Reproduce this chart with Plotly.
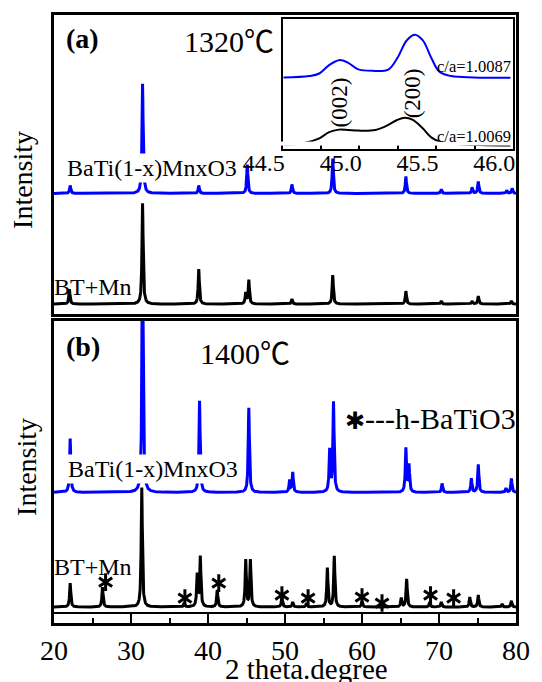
import numpy as np
import plotly.graph_objects as go

# ---------------- data ----------------
# panel (a) 1320 C : peak positions (2theta, deg) and peak heights (arb. units)
a_mn_pos = [22.1, 31.5, 38.8, 45.1, 50.9, 56.2, 65.7, 70.3, 74.3, 75.1, 78.8, 79.5]
a_mn_int = [8, 110, 8, 29, 9, 35, 17, 4, 6, 12, 3, 5]
a_bt_pos = [22.0, 31.5, 38.8, 44.9, 45.3, 50.9, 56.2, 65.7, 70.3, 74.3, 75.1, 79.4]
a_bt_int = [15, 101, 35, 11, 24, 5, 29, 13, 3, 3, 8, 3]

# panel (b) 1400 C
b_mn_pos = [22.1, 31.5, 38.9, 45.3, 50.6, 51.0, 55.8, 56.3, 65.7, 66.1, 70.4, 74.2, 75.1, 78.7, 79.4]
b_mn_int = [54, 260, 92, 85, 12, 20, 42, 90, 44, 27, 9, 14, 28, 4, 14]
b_bt_pos = [22.1, 26.3, 31.4, 36.9, 38.6, 39.0, 41.2, 44.9, 45.5, 49.6, 51.0, 52.8,
            55.5, 56.4, 60.0, 65.1, 65.8, 68.8, 70.3, 74.0, 75.1, 78.2, 79.4]
b_bt_int = [24, 20, 120, 4, 32, 50, 17, 47, 47, 10, 5, 4,
            39, 51, 6, 9, 28, 5, 5, 10, 12, 3, 6]

# h-BaTiO3 markers (2theta, level)
h_phase_pos = [26.7, 37.0, 41.4, 49.6, 53.0, 60.0, 62.6, 68.9, 71.9]
h_phase_lvl = [31, 15, 30, 18, 15, 16, 10, 18, 15]

# inset: (002)/(200) region, sampled points
inset_mn_x = [44.626, 44.795, 44.859, 44.923, 44.987, 45.045, 45.109, 45.205, 45.308,
              45.365, 45.429, 45.481, 45.532, 45.590, 45.641, 45.718, 45.865, 46.103]
inset_mn_y = [71.3, 72.7, 75.3, 83.7, 88.7, 86.3, 79.7, 78.0, 79.3,
              90.3, 108.7, 114.3, 108.7, 90.3, 77.0, 72.7, 71.3, 71.0]
inset_bt_x = [44.626, 44.754, 44.859, 44.923, 44.987, 45.045, 45.115, 45.224, 45.308, 45.365,
              45.417, 45.468, 45.532, 45.590, 45.654, 45.782, 46.103]
inset_bt_y = [4.3, 5.3, 10.3, 16.5, 19.0, 18.7, 18.0, 18.7, 23.7, 28.7,
              31.0, 28.7, 20.3, 11.0, 6.3, 4.3, 3.0]
inset_tick_pos = [44.87, 45.12, 45.37, 45.62, 45.87]
inset_label_pos = [44.5, 45.0, 45.5, 46.0]
inset_label_txt = ["44.5", "45.0", "45.5", "46.0"]

main_tick_vals = [20, 30, 40, 50, 60, 70, 80]
main_tick_txt = ["20", "30", "40", "50", "60", "70", "80"]

# ---------------- styling / geometry ----------------
W, H = 542, 682
L, R, T, B = 54, 523, 13, 623
FONT = "Liberation Serif, Times New Roman, Noto Sans CJK SC, serif"
BLUE = "#0000FF"


def px(xp):
    return (xp - L) / (R - L)


def py(yp):
    return (B - yp) / (B - T)


grid = np.arange(20.0, 80.0001, 0.02)
GAMMA = 0.09


def pattern(pos, inten, offset):
    y = np.full_like(grid, float(offset))
    for p, h in zip(pos, inten):
        y += h / (1.0 + ((grid - p) / GAMMA) ** 2)
    return y


fig = go.Figure()

# panel (a)
fig.add_trace(go.Scatter(x=grid, y=pattern(a_mn_pos, a_mn_int, 121), mode="lines",
                         line=dict(color=BLUE, width=3), xaxis="x", yaxis="y", hoverinfo="skip"))
fig.add_trace(go.Scatter(x=grid, y=pattern(a_bt_pos, a_bt_int, 10), mode="lines",
                         line=dict(color="black", width=3), xaxis="x", yaxis="y", hoverinfo="skip"))
# panel (b)
fig.add_trace(go.Scatter(x=grid, y=pattern(b_mn_pos, b_mn_int, 121), mode="lines",
                         line=dict(color=BLUE, width=3), xaxis="x2", yaxis="y2", hoverinfo="skip"))
fig.add_trace(go.Scatter(x=grid, y=pattern(b_bt_pos, b_bt_int, 6), mode="lines",
                         line=dict(color="black", width=3), xaxis="x2", yaxis="y2", hoverinfo="skip"))
for sym in ["y-up-open", "y-down-open"]:
    fig.add_trace(go.Scatter(x=h_phase_pos, y=h_phase_lvl, mode="markers",
                             marker=dict(symbol=sym, size=11, color="black",
                                         line=dict(color="black", width=3)),
                             xaxis="x2", yaxis="y2", hoverinfo="skip"))
# inset
fig.add_trace(go.Scatter(x=inset_mn_x, y=inset_mn_y, mode="lines", line_shape="spline",
                         line=dict(color=BLUE, width=2), xaxis="x3", yaxis="y3", hoverinfo="skip"))
fig.add_trace(go.Scatter(x=inset_bt_x, y=inset_bt_y, mode="lines", line_shape="spline",
                         line=dict(color="black", width=2), xaxis="x3", yaxis="y3", hoverinfo="skip"))
# empty trace so that the inset tick-label axis is drawn
fig.add_trace(go.Scatter(x=[], y=[], mode="lines", xaxis="x4", yaxis="y4", hoverinfo="skip"))

frame = dict(showline=True, linecolor="black", linewidth=3, mirror=True,
             showgrid=False, zeroline=False)

fig.update_layout(
    width=W, height=H,
    margin=dict(l=L, r=W - R, t=T, b=H - B),
    paper_bgcolor="white", plot_bgcolor="white",
    showlegend=False,
    font=dict(family=FONT, color="black"),
    xaxis=dict(domain=[0, 1], anchor="y", range=[20, 80], ticks="", showticklabels=False, **frame),
    yaxis=dict(domain=[py(313), 1], anchor="x", range=[0, 300], ticks="", showticklabels=False, **frame),
    xaxis2=dict(domain=[0, 1], anchor="y2", range=[20, 80], ticks="inside", ticklen=10, tickwidth=2,
                tickcolor="black", tickvals=main_tick_vals, ticktext=main_tick_txt,
                minor=dict(ticks="inside", ticklen=5, tickwidth=2, tickcolor="black", dtick=5, tick0=20),
                tickfont=dict(family=FONT, size=28), ticklabelstandoff=0, **frame),
    yaxis2=dict(domain=[0, py(320)], anchor="x2", range=[-10, 293], ticks="", showticklabels=False,
                showline=True, linecolor="black", linewidth=3, mirror=True, showgrid=False,
                zeroline=True, zerolinecolor="black", zerolinewidth=2),
    xaxis3=dict(domain=[px(286), px(520)], anchor="y3", range=[44.62, 46.12], ticks="inside",
                tickvals=inset_tick_pos, ticklen=5, tickwidth=1.5, tickcolor="black",
                showticklabels=False, showline=True, linecolor="black", linewidth=2, mirror=True,
                showgrid=False, zeroline=False),
    yaxis3=dict(domain=[py(147), py(17)], anchor="x3", range=[0, 130], ticks="", showticklabels=False,
                showline=True, linecolor="black", linewidth=2, mirror=True, showgrid=False, zeroline=False),
    xaxis4=dict(domain=[px(250), px(520)], anchor="y4", range=[44.391, 46.122], ticks="",
                tickvals=inset_label_pos, ticktext=inset_label_txt, showline=False, showgrid=False,
                zeroline=False, tickfont=dict(family=FONT, size=24), ticklabelstandoff=0),
    yaxis4=dict(domain=[py(144), py(140)], anchor="x4", visible=False, range=[0, 1]),
)


def ann(text, x, y, size, angle=0, bg=None, xanchor="center"):
    d = dict(text=text, x=px(x), y=py(y), xref="paper", yref="paper", showarrow=False,
             font=dict(family=FONT, size=size, color="black"), textangle=angle,
             xanchor=xanchor, yanchor="middle")
    if bg:
        d.update(bgcolor=bg, borderpad=1)
    fig.add_annotation(**d)


ann("<b>(a)</b>", 83, 37, 28)
ann("1320℃", 232, 40, 30)
ann("<b>(b)</b>", 83, 346, 28)
ann("1400℃", 248, 353, 30)
ann("BaTi(1-x)MnxO3", 153, 167, 24, bg="white")
ann("BT+Mn", 94, 286, 24)
ann("BaTi(1-x)MnxO3", 155, 468, 24, bg="white")
ann("BT+Mn", 94, 567, 24)
ann("<span style='font-family:DejaVu Sans;font-size:24px'>✱</span>---h-BaTiO3", 347, 418, 30,
    xanchor="left")
ann("Intensity", 22, 178, 28, angle=-90)
ann("Intensity", 26, 466, 28, angle=-90)
ann("c/a=1.0087", 480, 65, 16.5)
ann("c/a=1.0069", 480, 135, 16.5)
ann("(002)", 344, 101, 23, angle=-90)
ann("(200)", 418, 92, 23, angle=-90)
ann("2 theta.degree", 310, 669, 29)

fig.write_html("out.html")
